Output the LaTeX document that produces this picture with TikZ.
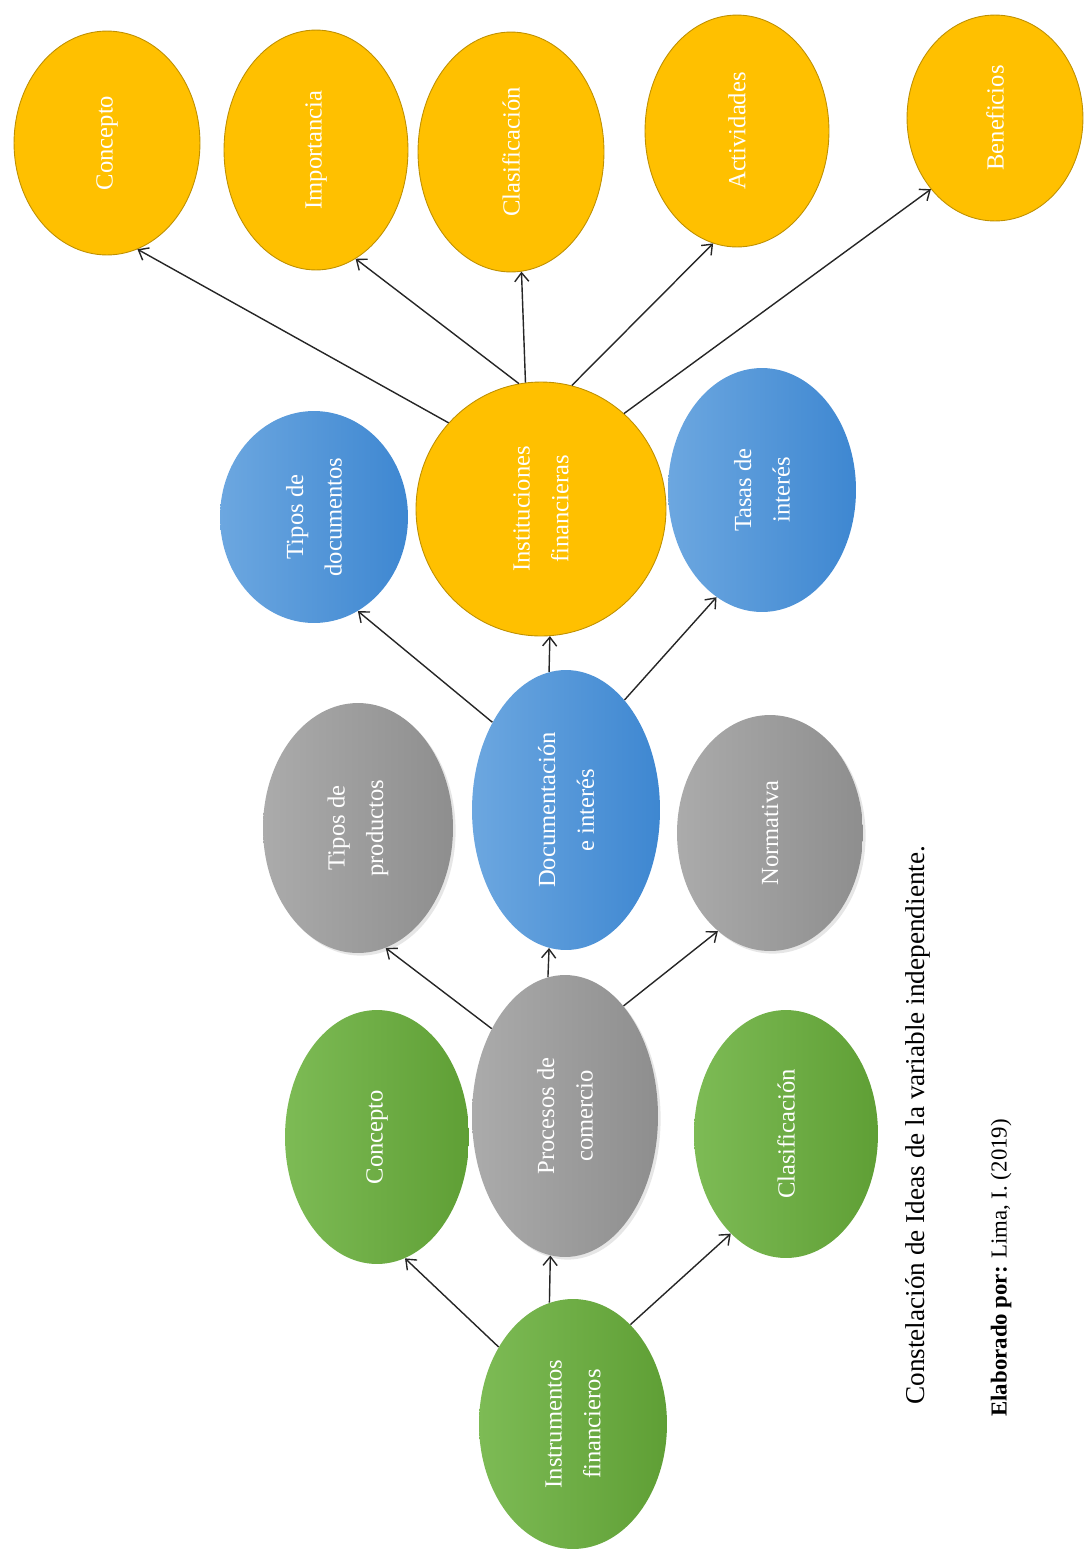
\documentclass[tikz,border=0pt]{standalone}
\usepackage{fontspec}
\setmainfont{Liberation Serif}
\usetikzlibrary{shapes.geometric,shadows,arrows.meta}

\definecolor{cOro}{HTML}{FFC000}
\definecolor{cOroBd}{HTML}{BF9000}
\definecolor{cAzulA}{HTML}{6CA7E0}
\definecolor{cAzulB}{HTML}{3E87D1}
\definecolor{cGrisA}{HTML}{ABABAB}
\definecolor{cGrisB}{HTML}{8E8E8E}
\definecolor{cVerdeA}{HTML}{7DBB55}
\definecolor{cVerdeB}{HTML}{5F9F35}

\begin{document}
\begin{tikzpicture}[x=0.02cm, y=-0.02cm,
  bub/.style={ellipse, rotate=90, inner sep=0pt, align=center, text=white,
    font=\fontsize{14}{22}\selectfont},
  oro/.style={bub, fill=cOro, draw=cOroBd, line width=0.5pt},
  azul/.style={bub, left color=cAzulA, right color=cAzulB},
  gris/.style={bub, left color=cGrisA, right color=cGrisB,
    drop shadow={opacity=0.2, shadow xshift=1.5pt, shadow yshift=-1.5pt}},
  verde/.style={bub, left color=cVerdeA, right color=cVerdeB},
  arr/.style={-{Straight Barb[length=5pt, width=8pt]}, line width=0.8pt, black!85}]
  \path[use as bounding box] (0,0) rectangle (1083,1549);

  % fila superior
  \foreach \nm/\px/\py/\rx/\ry/\t in {c1/107/143/93/112/Concepto,
      c2/316/150/92/120/Importancia, c3/511/152/93/120/Clasificación,
      c4/737/131/92/116/Actividades, c5/995/118/88/103/Beneficios}
    \node[oro, minimum width=\ry*0.04cm, minimum height=\rx*0.04cm] (\nm) at (\px,\py) {\t};

  \node[azul, minimum width=4.24cm, minimum height=3.76cm] (tdoc) at (314,517) {Tipos de\\documentos};
  \node[oro, minimum width=5.08cm, minimum height=5cm] (ifin) at (541,509) {Instituciones\\financieras};
  \node[azul, minimum width=4.88cm, minimum height=3.76cm] (tint) at (762,490) {Tasas de\\interés};

  \node[gris, minimum width=5cm, minimum height=3.8cm] (tprod) at (358,828) {Tipos de\\productos};
  \node[azul, minimum width=5.6cm, minimum height=3.76cm] (doc) at (566,810) {Documentación\\e interés};
  \node[gris, minimum width=4.72cm, minimum height=3.72cm] (norm) at (770,833) {Normativa};

  \node[verde, minimum width=5.08cm, minimum height=3.68cm] (conc) at (377,1137) {Concepto};
  \node[gris, minimum width=5.64cm, minimum height=3.72cm] (proc) at (565,1116) {Procesos de\\comercio};
  \node[verde, minimum width=4.96cm, minimum height=3.68cm] (clas) at (786,1134) {Clasificación};

  \node[verde, minimum width=5cm, minimum height=3.76cm] (instr) at (573,1424) {Instrumentos\\financieros};

  \foreach \a/\b in {instr.44/conc.-167, instr.11/proc.174, instr.-30/clas.151,
      proc.40/tprod.-167, proc.7/doc.173, proc.-28/norm.152,
      doc.40/tdoc.-155, doc.7/ifin.-176, doc.-28/tint.157,
      ifin.47/c1.-164, ifin.10/c2.-160, ifin.7/c3.-175, ifin.-14/c4.168, ifin.-41/c5.138}
    \draw[arr] (\a) -- (\b);

  \node[rotate=90, anchor=west, inner sep=0pt, font=\fontsize{15.5}{18}\selectfont] (titulo) at (918,1405)
    {Constelación de Ideas de la variable independiente.};
  \node[rotate=90, anchor=west, inner sep=0pt, font=\fontsize{13}{16}\selectfont] (autor) at (1001,1417)
    {\textbf{Elaborado por:} Lima, I. (2019)};
\end{tikzpicture}
\end{document}
